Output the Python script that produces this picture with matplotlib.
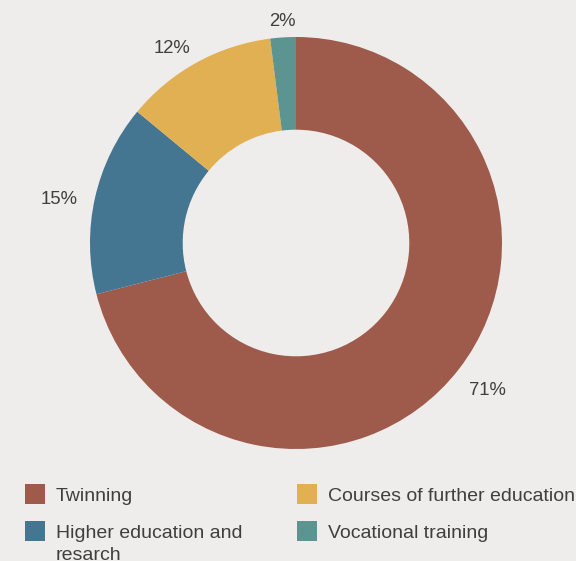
import numpy as np
import matplotlib
matplotlib.use("Agg")
import matplotlib.pyplot as plt
from matplotlib.patches import Rectangle

categories = ["Twinning", "Higher education and\nresarch", "Courses of further education", "Vocational training"]
values = [71, 15, 12, 2]
labels = ["71%", "15%", "12%", "2%"]
colors = ["#9E5B4B", "#447591", "#E1B052", "#5B9491"]

BG = "#EFEDEB"
TXT = "#3F3F3F"
plt.rcParams['font.family'] = ['Liberation Sans', 'DejaVu Sans']

W, H = 576, 561
fig = plt.figure(figsize=(W/100, H/100), dpi=100, facecolor=BG)

cx, cy, R = 296, 243, 206
ax = fig.add_axes([(cx - R)/W, 1 - (cy + R)/H, 2*R/W, 2*R/H])
ax.set_facecolor(BG)
wedges, _ = ax.pie(values, colors=colors, startangle=90, counterclock=False,
                   radius=1, wedgeprops=dict(width=0.45, linewidth=0))
ax.set_xlim(-1, 1); ax.set_ylim(-1, 1)
ax.set_aspect('equal')
ax.axis('off')

for w, lab in zip(wedges, labels):
    ang = np.deg2rad((w.theta1 + w.theta2) / 2)
    c, s = np.cos(ang), np.sin(ang)
    ha = 'left' if c > 0.3 else ('right' if c < -0.3 else 'center')
    va = 'bottom' if s > 0.3 else ('top' if s < -0.3 else 'center')
    r = 1.06 if c > -0.9 else 1.085
    ax.text(r*c, r*s - 0.026, lab, ha=ha, va=va, fontsize=13.3, color=TXT, clip_on=False)

# legend (manual)
pos = [(25, 494), (25, 531), (297, 494), (297, 531)]
for (x, y), cat, col in zip(pos, categories, colors):
    fig.add_artist(Rectangle((x/W, 1 - (y + 10)/H), 20/W, 20/H, transform=fig.transFigure,
                             facecolor=col, edgecolor='none'))
    for i, line in enumerate(cat.split('\n')):
        fig.text((x + 31)/W, 1 - (y + 7 + 22*i)/H, line, ha='left', va='baseline',
                 fontsize=14, color=TXT)

fig.savefig("out.png", dpi=100, facecolor=BG)
